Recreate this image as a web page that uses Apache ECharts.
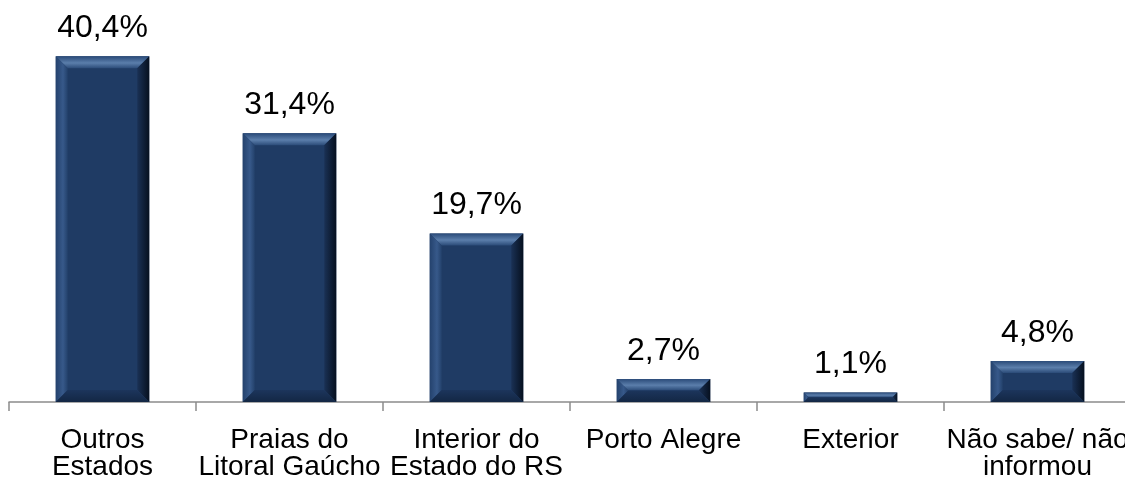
<!DOCTYPE html>
<html>
<head>
<meta charset="utf-8">
<script src="https://cdn.jsdelivr.net/npm/echarts@6/dist/echarts.min.js"></script>
<style>
  html, body { margin: 0; padding: 0; background: #ffffff; }
  #chart { width: 1125px; height: 479px; }
</style>
</head>
<body>
<div id="chart"></div>
<script>
// Origem dos entrevistados (%)
const categories = [
  'Outros\nEstados',
  'Praias do\nLitoral Gaúcho',
  'Interior do\nEstado do RS',
  'Porto Alegre',
  'Exterior',
  'Não sabe/ não\ninformou'
];
const values = [40.4, 31.4, 19.7, 2.7, 1.1, 4.8];

const fmt = v => v.toFixed(1).replace('.', ',') + '%';
const FONT = 'Liberation Sans, Arial, sans-serif';

// Bevelled bar: flat face plus four edge facets
function renderBevelBar(params, api) {
  const idx = api.value(0);
  const val = api.value(1);
  const top = api.coord([idx, val]);
  const base = api.coord([idx, 0]);
  const bw = api.size([1, 0])[0] * 0.5;
  const x0 = top[0] - bw / 2, x1 = top[0] + bw / 2;
  const y0 = top[1], y1 = base[1];
  const h = y1 - y0;
  const b = Math.min(12, h / 2, bw / 2);
  const poly = (pts, fill) => ({ type: 'polygon', shape: { points: pts }, style: { fill: fill }, silent: true });
  return {
    type: 'group',
    children: [
      { type: 'rect', shape: { x: x0, y: y0, width: bw, height: h }, style: { fill: '#1f3b64' } },
      poly([[x0, y0], [x1, y0], [x1 - b, y0 + b], [x0 + b, y0 + b]], {
        type: 'linear', x: 0, y: 0, x2: 0, y2: 1,
        colorStops: [{ offset: 0, color: '#2a4a78' }, { offset: 0.55, color: '#5b7eab' }, { offset: 1, color: '#2b4b78' }]
      }),
      poly([[x0, y0], [x0 + b, y0 + b], [x0 + b, y1 - b], [x0, y1]], {
        type: 'linear', x: 0, y: 0, x2: 1, y2: 0,
        colorStops: [{ offset: 0, color: '#24426d' }, { offset: 0.6, color: '#37598a' }, { offset: 1, color: '#23416b' }]
      }),
      poly([[x1, y0], [x1, y1], [x1 - b, y1 - b], [x1 - b, y0 + b]], {
        type: 'linear', x: 0, y: 0, x2: 1, y2: 0,
        colorStops: [{ offset: 0, color: '#1a3155' }, { offset: 1, color: '#06101f' }]
      }),
      poly([[x0, y1], [x0 + b, y1 - b], [x1 - b, y1 - b], [x1, y1]], {
        type: 'linear', x: 0, y: 0, x2: 0, y2: 1,
        colorStops: [{ offset: 0, color: '#1c355c' }, { offset: 1, color: '#132744' }]
      })
    ]
  };
}

const chart = echarts.init(document.getElementById('chart'), null, { renderer: 'canvas' });
chart.setOption({
  animation: false,
  grid: { left: 9, top: 17, width: 1122, height: 385, containLabel: false, outerBoundsMode: 'none' },
  xAxis: {
    type: 'category',
    data: categories,
    axisLine: { lineStyle: { color: '#8c8c8c', width: 1.5 } },
    axisTick: { show: true, length: 9, lineStyle: { color: '#8c8c8c', width: 1.5 } },
    axisLabel: {
      color: '#000000', fontSize: 28, lineHeight: 27, margin: 25,
      fontFamily: FONT, interval: 0
    }
  },
  yAxis: {
    type: 'value', min: 0, max: 45,
    show: false, splitLine: { show: false }
  },
  series: [
    {
      type: 'custom',
      renderItem: renderBevelBar,
      data: values.map((v, i) => [i, v]),
      encode: { x: 0, y: 1 },
      clip: false,
      z: 2
    },
    {
      // transparent bars carrying the value labels
      type: 'bar',
      data: values,
      barWidth: '50%',
      barGap: '-100%',
      itemStyle: { color: 'rgba(0,0,0,0)' },
      silent: true,
      z: 3,
      label: {
        show: true,
        position: 'top',
        distance: 12,
        color: '#000000',
        fontSize: 32,
        lineHeight: 32,
        fontFamily: FONT,
        formatter: p => fmt(p.value)
      }
    }
  ]
});
</script>
</body>
</html>
